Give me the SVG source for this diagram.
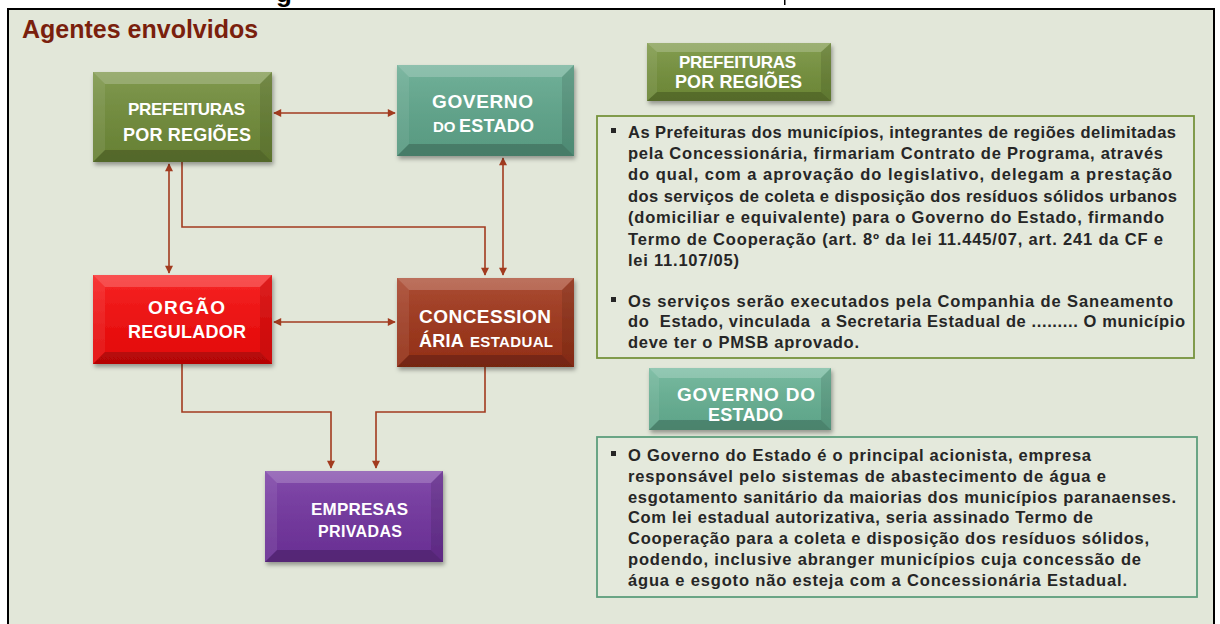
<svg xmlns="http://www.w3.org/2000/svg" width="1220" height="624" viewBox="0 0 1220 624">
<style>
.nt{font-family:"Liberation Sans",Arial,sans-serif;font-weight:bold;fill:#ffffff;font-size:17px}
.f15{font-size:15px}
.f16{font-size:16px}
.f18{font-size:18px}
.f19{font-size:19px}
.bt{font-family:"Liberation Sans",Arial,sans-serif;font-weight:bold;font-size:16.5px;fill:#262626}
.hi{fill:#ffffff;opacity:0.2}
.hl{fill:#ffffff;opacity:0.08}
.sr{fill:#000000;opacity:0.1}
.sb{fill:#000000;opacity:0.2}
.con{fill:none;stroke:#A23B1F;stroke-width:1.6}
.bul{fill:#262626}
</style>
<defs>
<marker id="ah" viewBox="0 0 10 10" refX="9" refY="5" markerWidth="9" markerHeight="8" markerUnits="userSpaceOnUse" orient="auto-start-reverse">
<path d="M0,0 L10,5 L0,10 z" fill="#A23B1F"/>
</marker>
<filter id="sh" x="-10%" y="-10%" width="130%" height="140%">
<feDropShadow dx="1.5" dy="3" stdDeviation="2" flood-color="#000" flood-opacity="0.35"/>
</filter>
<linearGradient id="face" x1="0" y1="0" x2="0" y2="1">
<stop offset="0" stop-color="#fff" stop-opacity="0.12"/>
<stop offset="1" stop-color="#000" stop-opacity="0.08"/>
</linearGradient>
</defs>
<rect x="0" y="0" width="1220" height="624" fill="#ffffff"/>
<rect x="8" y="9" width="1206" height="625" fill="#E2E7D9" stroke="#000" stroke-width="2"/>
<text x="276" y="2" style="font-family:'Liberation Sans',Arial,sans-serif;font-weight:bold;font-size:26px;fill:#000">g</text>
<rect x="784" y="0" width="1.5" height="5" fill="#000"/>
<text x="22" y="38" style="font-family:'Liberation Sans',Arial,sans-serif;font-weight:bold;font-size:25px;fill:#7A1F0D">Agentes envolvidos</text>

<g id="connectors">
<path class="con" d="M274,113 H395" marker-start="url(#ah)" marker-end="url(#ah)"/>
<path class="con" d="M169,164 V273" marker-start="url(#ah)" marker-end="url(#ah)"/>
<path class="con" d="M182,162 V227 H485 V275" marker-end="url(#ah)"/>
<path class="con" d="M503,158 V275" marker-start="url(#ah)" marker-end="url(#ah)"/>
<path class="con" d="M274,322 H395" marker-start="url(#ah)" marker-end="url(#ah)"/>
<path class="con" d="M182,364 V412 H331 V468" marker-end="url(#ah)"/>
<path class="con" d="M485,367 V412 H376 V468" marker-end="url(#ah)"/>
</g>

<g id="node-prefeituras" filter="url(#sh)">
<rect x="93" y="72" width="179" height="90" fill="#708C38"/>
<rect x="93" y="72" width="179" height="90" fill="url(#face)"/>
<polygon class="hi" points="93,72 272,72 260,84 105,84"/>
<polygon class="hl" points="93,72 105,84 105,150 93,162"/>
<polygon class="sr" points="272,72 272,162 260,150 260,84"/>
<polygon class="sb" points="93,162 105,150 260,150 272,162"/>
</g>
<text class="nt" x="128" y="115" textLength="117">PREFEITURAS</text>
<text class="nt f18" x="123" y="141" textLength="128">POR REGIÕES</text>

<g id="node-governo" filter="url(#sh)">
<rect x="397" y="65" width="177" height="91" fill="#5FA78C"/>
<rect x="397" y="65" width="177" height="91" fill="url(#face)"/>
<polygon class="hi" points="397,65 574,65 562,77 409,77"/>
<polygon class="hl" points="397,65 409,77 409,144 397,156"/>
<polygon class="sr" points="574,65 574,156 562,144 562,77"/>
<polygon class="sb" points="397,156 409,144 562,144 574,156"/>
</g>
<text class="nt f19" x="432" y="108" textLength="101">GOVERNO</text>
<text class="nt" x="433" y="132"><tspan class="f15">DO </tspan><tspan class="f18" x="459" textLength="75">ESTADO</tspan></text>

<g id="node-orgao" filter="url(#sh)">
<rect x="93" y="275" width="179" height="89" fill="#F70808"/>
<rect x="93" y="275" width="179" height="89" fill="url(#face)"/>
<polygon class="hi" points="93,275 272,275 260,287 105,287"/>
<polygon class="hl" points="93,275 105,287 105,352 93,364"/>
<polygon class="sr" points="272,275 272,364 260,352 260,287"/>
<polygon class="sb" points="93,364 105,352 260,352 272,364"/>
</g>
<text class="nt f19" x="148" y="314" textLength="77">ORGÃO</text>
<text class="nt f18" x="128" y="338" textLength="118">REGULADOR</text>

<g id="node-concessionaria" filter="url(#sh)">
<rect x="397" y="278" width="177" height="89" fill="#A03418"/>
<rect x="397" y="278" width="177" height="89" fill="url(#face)"/>
<polygon class="hi" points="397,278 574,278 562,290 409,290"/>
<polygon class="hl" points="397,278 409,290 409,355 397,367"/>
<polygon class="sr" points="574,278 574,367 562,355 562,290"/>
<polygon class="sb" points="397,367 409,355 562,355 574,367"/>
</g>
<text class="nt f19" x="419" y="323" textLength="132">CONCESSION</text>
<text class="nt f18" x="419" y="347"><tspan textLength="44">ÁRIA</tspan> <tspan class="f15" x="470" textLength="83">ESTADUAL</tspan></text>

<g id="node-empresas" filter="url(#sh)">
<rect x="265" y="471" width="178" height="91" fill="#7233A0"/>
<rect x="265" y="471" width="178" height="91" fill="url(#face)"/>
<polygon class="hi" points="265,471 443,471 431,483 277,483"/>
<polygon class="hl" points="265,471 277,483 277,550 265,562"/>
<polygon class="sr" points="443,471 443,562 431,550 431,483"/>
<polygon class="sb" points="265,562 277,550 431,550 443,562"/>
</g>
<text class="nt" x="311" y="515" textLength="97">EMPRESAS</text>
<text class="nt f16" x="318" y="537" textLength="84">PRIVADAS</text>

<g id="label-prefeituras" filter="url(#sh)">
<rect x="647" y="43" width="184" height="58" fill="#74913A"/>
<rect x="647" y="43" width="184" height="58" fill="url(#face)"/>
<polygon class="hi" points="647,43 831,43 821,52 657,52"/>
<polygon class="hl" points="647,43 657,52 657,92 647,101"/>
<polygon class="sr" points="831,43 831,101 821,92 821,52"/>
<polygon class="sb" points="647,101 657,92 821,92 831,101"/>
</g>
<text class="nt" x="679" y="68" textLength="117">PREFEITURAS</text>
<text class="nt f18" x="675" y="88" textLength="127">POR REGIÕES</text>

<g id="text-prefeituras">
<rect x="597" y="116" width="597" height="242" fill="#E4E9DC" stroke="#76933C" stroke-width="1.8"/>
<rect class="bul" x="611" y="128" width="5" height="5"/>
<text class="bt" x="628" y="138" textLength="548">As Prefeituras dos municípios, integrantes de regiões delimitadas</text>
<text class="bt" x="628" y="159" textLength="535">pela Concessionária, firmariam Contrato de Programa, através</text>
<text class="bt" x="628" y="180" textLength="544">do qual, com a aprovação do legislativo, delegam a prestação</text>
<text class="bt" x="628" y="202" textLength="549">dos serviços de coleta e disposição dos resíduos sólidos urbanos</text>
<text class="bt" x="628" y="223" textLength="536">(domiciliar e equivalente) para o Governo do Estado, firmando</text>
<text class="bt" x="628" y="245" textLength="535">Termo de Cooperação (art. 8º da lei 11.445/07, art. 241 da CF e</text>
<text class="bt" x="628" y="266" textLength="111">lei 11.107/05)</text>
<rect class="bul" x="611" y="297" width="5" height="5"/>
<text class="bt" x="628" y="307" textLength="545">Os serviços serão executados pela Companhia de Saneamento</text>
<text class="bt" x="628" y="327" textLength="557" xml:space="preserve">do  Estado, vinculada  a Secretaria Estadual de ......... O município</text>
<text class="bt" x="628" y="348" textLength="231">deve ter o PMSB aprovado.</text>
</g>

<g id="label-governo" filter="url(#sh)">
<rect x="649" y="368" width="182" height="62" fill="#66B294"/>
<rect x="649" y="368" width="182" height="62" fill="url(#face)"/>
<polygon class="hi" points="649,368 831,368 821,378 659,378"/>
<polygon class="hl" points="649,368 659,378 659,420 649,430"/>
<polygon class="sr" points="831,368 831,430 821,420 821,378"/>
<polygon class="sb" points="649,430 659,420 821,420 831,430"/>
</g>
<text class="nt f19" x="677" y="401" textLength="138">GOVERNO DO</text>
<text class="nt f18" x="708" y="421" textLength="75">ESTADO</text>

<g id="text-governo">
<rect x="597" y="437" width="600" height="160" fill="#E4E9DC" stroke="#5C9E7C" stroke-width="1.8"/>
<rect class="bul" x="611" y="451" width="5" height="5"/>
<text class="bt" x="628" y="461" textLength="463">O Governo do Estado é o principal acionista, empresa</text>
<text class="bt" x="628" y="482" textLength="478">responsável pelo sistemas de abastecimento de água e</text>
<text class="bt" x="628" y="503" textLength="548">esgotamento sanitário da maiorias dos municípios paranaenses.</text>
<text class="bt" x="628" y="523" textLength="465">Com lei estadual autorizativa, seria assinado Termo de</text>
<text class="bt" x="628" y="544" textLength="521">Cooperação para a coleta e disposição dos resíduos sólidos,</text>
<text class="bt" x="628" y="565" textLength="513">podendo, inclusive abranger municípios cuja concessão de</text>
<text class="bt" x="628" y="586" textLength="499">água e esgoto não esteja com a Concessionária Estadual.</text>
</g>
</svg>
